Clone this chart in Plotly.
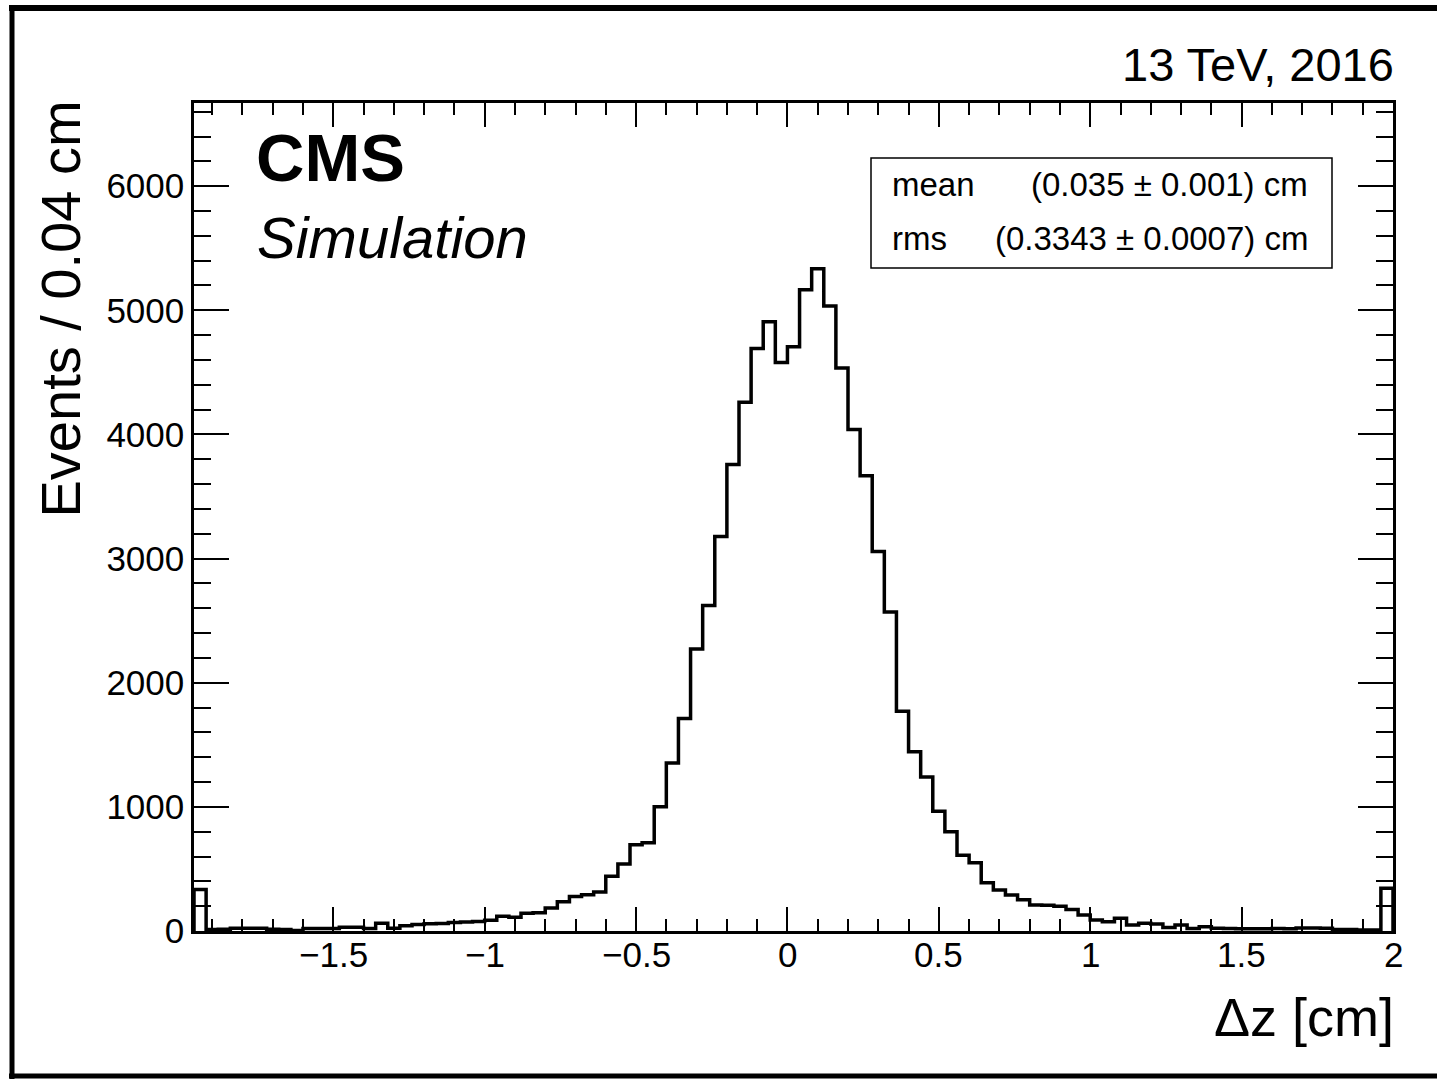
import numpy as np
import plotly.graph_objects as go

# Histogram of Δz: 99 bins of 0.04 cm from -1.96 to 2.00 cm (edge bins hold the overflow)
x_low = -1.96
bin_width = 0.04
counts = [
    335, 13, 15, 22, 23, 22, 14, 12, 5, 20,
    20, 21, 31, 30, 20, 62, 22, 42, 52, 58,
    60, 68, 72, 76, 86, 118, 110, 142, 148, 185,
    236, 278, 292, 315, 442, 539, 695, 710, 1000, 1354,
    1711, 2272, 2623, 3178, 3757, 4259, 4693, 4907, 4580, 4706,
    5165, 5334, 5034, 4535, 4039, 3668, 3057, 2569, 1770, 1443,
    1241, 965, 799, 611, 550, 389, 330, 290, 252, 210,
    208, 200, 174, 128, 88, 74, 102, 48, 62, 56,
    29, 48, 21, 35, 22, 20, 18, 18, 18, 20,
    18, 24, 24, 22, 13, 12, 8, 8, 345,
]
x_ticks = [-1.5, -1, -0.5, 0, 0.5, 1, 1.5, 2]
x_tick_text = ["\u22121.5", "\u22121", "\u22120.5", "0", "0.5", "1", "1.5", "2"]
y_ticks = [0, 1000, 2000, 3000, 4000, 5000, 6000]
y_max = 6670

stats_names = ["mean", "rms"]
stats_values = ["(0.035 \u00b1 0.001) cm", "(0.3343 \u00b1 0.0007) cm"]

edges = x_low + bin_width * np.arange(len(counts) + 1)
x_high = edges[-1]

# ROOT-style outline: rise from zero at the first edge, step through bins, drop at the last edge
step_x = np.concatenate([[edges[0]], edges, [edges[-1]]])
step_y = np.concatenate([[0], counts, [counts[-1]], [0]])

W, H = 1437, 1079
L, R, T, B = 194, 1393, 103, 931
FONT = "Liberation Sans, Arial, Helvetica, sans-serif"
TICK_SIZE = 35


def px(xp):
    return (xp - L) / (R - L)


def py(yp):
    return (B - yp) / (B - T)


fig = go.Figure()
fig.add_trace(go.Scatter(
    x=step_x, y=step_y, mode="lines",
    line=dict(color="black", width=3.5, shape="hv"),
    hoverinfo="skip", showlegend=False,
))

axis_common = dict(
    showline=True, linecolor="black", linewidth=2.5, mirror="allticks",
    ticks="inside", tickcolor="black", tickwidth=2,
    showgrid=False, zeroline=False,
    tickfont=dict(family=FONT, size=TICK_SIZE, color="black"),
)

# x labels are placed as annotations so they sit close under the frame
fig.update_xaxes(
    range=[x_low, x_high], tickvals=x_ticks, showticklabels=False, ticklen=24,
    minor=dict(dtick=0.1, tick0=0, ticklen=12, tickwidth=2, ticks="inside", tickcolor="black"),
    **axis_common,
)
fig.update_yaxes(
    range=[0, y_max], tickvals=y_ticks, ticklen=35,
    minor=dict(dtick=200, tick0=0, ticklen=17, tickwidth=2, ticks="inside", tickcolor="black"),
    **axis_common,
)

annotations = []
for xv, label in zip(x_ticks, x_tick_text):
    annotations.append(dict(text=label, x=xv, y=py(955), xref="x", yref="paper",
                            xanchor="center", yanchor="middle",
                            font=dict(family=FONT, size=TICK_SIZE, color="black")))

annotations += [
    dict(text="\u0394z [cm]", x=px(R + 3), y=py(1017), xanchor="right", yanchor="middle",
         font=dict(family=FONT, size=54, color="black")),
    dict(text="Events / 0.04 cm", x=px(60), y=py(99), xanchor="center", yanchor="top",
         textangle=-90, font=dict(family=FONT, size=56, color="black")),
    dict(text="13 TeV, 2016", x=px(R + 3), y=py(64), xanchor="right", yanchor="middle",
         font=dict(family=FONT, size=47, color="black")),
    dict(text="<b>CMS</b>", x=px(254), y=py(158), xanchor="left", yanchor="middle",
         font=dict(family=FONT, size=67, color="black")),
    dict(text="<i>Simulation</i>", x=px(255), y=py(238), xanchor="left", yanchor="middle",
         font=dict(family=FONT, size=58, color="black")),
]
for name, value, yc in zip(stats_names, stats_values, [184, 239]):
    annotations.append(dict(text=name, x=px(890), y=py(yc), xanchor="left", yanchor="middle",
                            font=dict(family=FONT, size=33, color="black")))
    annotations.append(dict(text=value, x=px(1310), y=py(yc), xanchor="right", yanchor="middle",
                            font=dict(family=FONT, size=33, color="black")))
for a in annotations:
    a.setdefault("xref", "paper")
    a.setdefault("yref", "paper")
    a["showarrow"] = False

shapes = [
    # statistics box
    dict(type="rect", xref="paper", yref="paper",
         x0=px(871), x1=px(1332), y0=py(158), y1=py(268),
         line=dict(color="black", width=1.5)),
    # page frame
    dict(type="line", xref="paper", yref="paper", x0=px(9), x1=px(W), y0=py(8), y1=py(8),
         line=dict(color="black", width=6)),
    dict(type="line", xref="paper", yref="paper", x0=px(12), x1=px(12), y0=py(5), y1=py(H),
         line=dict(color="black", width=5)),
    dict(type="line", xref="paper", yref="paper", x0=px(9), x1=px(W), y0=py(1076), y1=py(1076),
         line=dict(color="black", width=5)),
]

fig.update_layout(
    width=W, height=H,
    margin=dict(l=L, r=W - R, t=T, b=H - B, pad=0),
    paper_bgcolor="white", plot_bgcolor="white",
    annotations=annotations, shapes=shapes,
    showlegend=False,
)

fig.write_html("out.html")
